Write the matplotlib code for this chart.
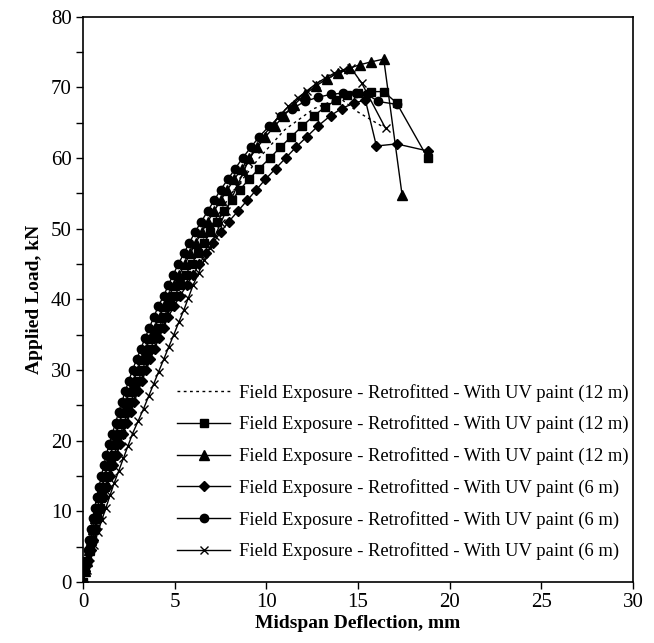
import matplotlib
matplotlib.use("Agg")
import matplotlib.pyplot as plt

plt.rcParams['font.family'] = ['Liberation Serif', 'DejaVu Serif']

LABEL_12 = "Field Exposure - Retrofitted - With UV paint (12 m)"
LABEL_6 = "Field Exposure - Retrofitted - With UV paint (6 m)"

# dotted (12 m), no markers
dot_x = [0, 0.4, 0.9, 1.4, 2.0, 2.7, 3.4, 4.1, 4.9, 5.8, 6.9, 8.1, 9.6, 11.0, 12.6, 14.0, 15.0, 16.3]
dot_y = [0, 5, 10, 15, 20, 25, 30, 35, 40, 45, 50, 55, 60, 64, 67, 68.5, 66.5, 64.5]

# squares (12 m)
sq_x = [0, 0.12, 0.24, 0.37, 0.5, 0.63, 0.77, 0.91, 1.06, 1.21, 1.37, 1.53, 1.7, 1.87,
        2.05, 2.23, 2.42, 2.61, 2.81, 3.02, 3.23, 3.45, 3.68, 3.91, 4.15, 4.4, 4.7, 5.0,
        5.3, 5.6, 5.92, 6.25, 6.6, 6.95, 7.32, 7.7, 8.1, 8.55, 9.05, 9.6, 10.2, 10.75,
        11.35, 11.95, 12.6, 13.2, 13.8, 14.4, 15.0, 15.7, 16.4, 17.1, 18.8]
sq_y = [0, 1.5, 3, 4.5, 6, 7.5, 9, 10.5, 12, 13.5, 15, 16.5, 18, 19.5,
        21, 22.5, 24, 25.5, 27, 28.5, 30, 31.5, 33, 34.5, 36, 37.5, 39, 40.5,
        42, 43.5, 45, 46.5, 48, 49.5, 51, 52.5, 54, 55.5, 57, 58.5, 60, 61.5,
        63, 64.5, 66, 67.2, 68.2, 68.9, 69.2, 69.4, 69.4, 67.8, 60.0]

# triangles (12 m)
tri_x = [0, 0.1, 0.2, 0.32, 0.43, 0.55, 0.67, 0.79, 0.92, 1.06, 1.2, 1.35, 1.5, 1.66,
         1.82, 1.99, 2.16, 2.35, 2.55, 2.76, 2.98, 3.2, 3.43, 3.67, 3.92, 4.17, 4.43, 4.7,
         4.98, 5.26, 5.55, 5.85, 6.15, 6.47, 6.8, 7.15, 7.5, 7.87, 8.25, 8.65, 9.05, 9.5,
         9.95, 10.45, 10.95, 11.5, 12.1, 12.7, 13.3, 13.9, 14.5, 15.1, 15.7, 16.4, 17.4]
tri_y = [0, 1.5, 3, 4.5, 6, 7.5, 9, 10.5, 12, 13.5, 15, 16.5, 18, 19.5,
         21, 22.5, 24, 25.5, 27, 28.5, 30, 31.5, 33, 34.5, 36, 37.5, 39, 40.5,
         42, 43.5, 45, 46.5, 48, 49.5, 51, 52.5, 54, 55.5, 57, 58.5, 60, 61.5,
         63, 64.5, 66, 67.5, 69, 70.2, 71.2, 72, 72.7, 73.2, 73.6, 74.0, 54.8]

# diamonds (6 m)
dia_x = [0, 0.13, 0.27, 0.41, 0.55, 0.69, 0.84, 0.99, 1.15, 1.31, 1.48, 1.65, 1.83, 2.01,
         2.2, 2.39, 2.59, 2.79, 3.0, 3.22, 3.44, 3.67, 3.9, 4.14, 4.39, 4.65, 4.95, 5.3,
         5.65, 6.0, 6.35, 6.7, 7.1, 7.5, 7.95, 8.45, 8.95, 9.45, 9.95, 10.5, 11.05, 11.6,
         12.2, 12.8, 13.5, 14.1, 14.8, 15.4, 16.0, 17.1, 18.8]
dia_y = [0, 1.5, 3, 4.5, 6, 7.5, 9, 10.5, 12, 13.5, 15, 16.5, 18, 19.5,
         21, 22.5, 24, 25.5, 27, 28.5, 30, 31.5, 33, 34.5, 36, 37.5, 39, 40.5,
         42, 43.5, 45, 46.5, 48, 49.5, 51, 52.5, 54, 55.5, 57, 58.5, 60, 61.5,
         63, 64.5, 66, 67.0, 67.8, 68.2, 61.7, 62.0, 61.0]

# circles (6 m)
cir_x = [0, 0.08, 0.16, 0.25, 0.34, 0.44, 0.54, 0.64, 0.75, 0.87, 1.0, 1.13, 1.27, 1.42,
         1.6, 1.77, 1.94, 2.12, 2.3, 2.5, 2.7, 2.92, 3.15, 3.38, 3.62, 3.86, 4.1, 4.4,
         4.65, 4.92, 5.2, 5.5, 5.8, 6.1, 6.45, 6.8, 7.15, 7.5, 7.9, 8.3, 8.7, 9.15,
         9.6, 10.15, 10.8, 11.4, 12.1, 12.8, 13.5, 14.2, 14.9, 15.5, 16.1, 17.1]
cir_y = [0, 1.5, 3, 4.5, 6, 7.5, 9, 10.5, 12, 13.5, 15, 16.5, 18, 19.5,
         21, 22.5, 24, 25.5, 27, 28.5, 30, 31.5, 33, 34.5, 36, 37.5, 39, 40.5,
         42, 43.5, 45, 46.5, 48, 49.5, 51, 52.5, 54, 55.5, 57, 58.5, 60, 61.5,
         63, 64.5, 66, 67.0, 68.0, 68.6, 69.0, 69.2, 69.2, 69.0, 68.0, 67.6]

# crosses (6 m)
crs_x = [0, 0.2, 0.4, 0.6, 0.8, 1.02, 1.25, 1.47, 1.7, 1.95, 2.2, 2.45, 2.7, 3.0, 3.3,
         3.57, 3.85, 4.12, 4.4, 4.67, 4.95, 5.22, 5.5, 5.75, 6.0, 6.3, 6.6, 6.9, 7.2,
         7.5, 7.8, 8.1, 8.4, 8.7, 9.0, 9.4, 9.8, 10.25, 10.7, 11.2, 11.7, 12.2, 12.7,
         13.2, 13.7, 14.2, 14.6, 15.2, 16.5]
crs_y = [0, 1.75, 3.5, 5.25, 7, 8.75, 10.5, 12.25, 14, 15.75, 17.5, 19.25, 21, 22.75, 24.5,
         26.25, 28, 29.75, 31.5, 33.25, 35, 36.75, 38.5, 40.25, 42, 43.75, 45.5, 47.25, 49,
         50.75, 52.5, 54.25, 56, 57.75, 59.5, 61.25, 63, 64.5, 66, 67.3, 68.5, 69.5, 70.5,
         71.3, 72, 72.5, 72.8, 70.6, 64.2]

fig = plt.figure(figsize=(6.54, 6.43), dpi=100)
ax = fig.add_axes([0.127, 0.095, 0.841, 0.879])

lw = 1.0
ax.plot(dot_x, dot_y, color='black', lw=lw, ls=(0, (2, 2.5)), label=LABEL_12)
ax.plot(sq_x, sq_y, color='black', lw=lw, marker='s', ms=6, label=LABEL_12)
ax.plot(tri_x, tri_y, color='black', lw=lw, marker='^', ms=6.5, label=LABEL_12)
ax.plot(dia_x, dia_y, color='black', lw=lw, marker='D', ms=5, label=LABEL_6)
ax.plot(cir_x, cir_y, color='black', lw=lw, marker='o', ms=6, label=LABEL_6)
ax.plot(crs_x, crs_y, color='black', lw=lw, marker='x', ms=5.5, mew=1.0, label=LABEL_6)

ax.set_xlim(0, 30)
ax.set_ylim(0, 80)
ax.set_xticks(range(0, 31, 5))
ax.set_yticks(range(0, 81, 10))
ax.set_yticks(range(5, 80, 10), minor=True)
ax.tick_params(axis='both', which='major', direction='out', length=5, width=1,
               labelsize=15, color='black', pad=3)
ax.tick_params(axis='y', which='minor', direction='out', length=5, width=1)
for s in ax.spines.values():
    s.set_linewidth(1.2)

ax.set_xlabel('Midspan Deflection, mm', fontsize=14, fontweight='bold', labelpad=2)
ax.set_ylabel('Applied Load, kN', fontsize=14, fontweight='bold', labelpad=6)

ax.legend(loc='lower right', bbox_to_anchor=(1.0, 0.03), frameon=False,
          fontsize=13.4, handlelength=2.85, labelspacing=0.74, handletextpad=0.45,
          borderaxespad=0.0, borderpad=0.25)

fig.savefig('out.png', dpi=100)
